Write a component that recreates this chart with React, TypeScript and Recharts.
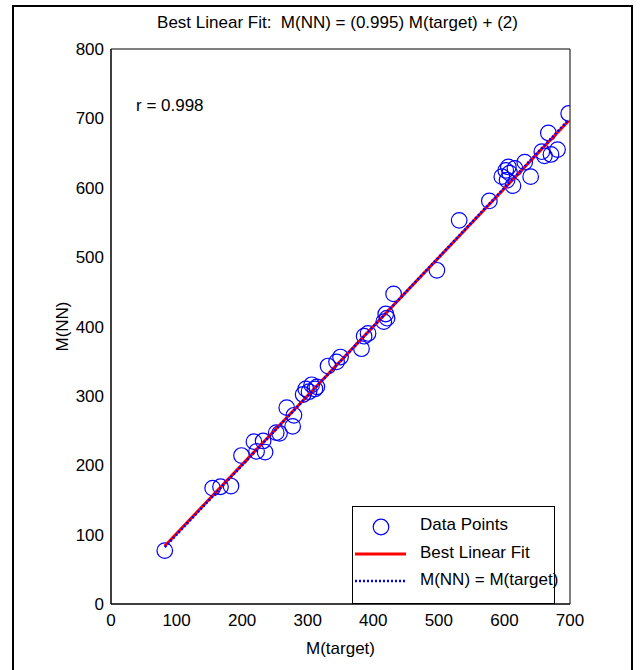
import React from 'react';
import { ScatterChart, Scatter, XAxis, YAxis, Legend } from 'recharts';

const targetValues = [82, 155, 167, 183, 199, 218, 222, 232, 235, 252, 257, 268, 277, 279, 293, 297, 302, 306, 311, 314, 331, 344, 350, 382, 386, 392, 416, 419, 421, 431, 497, 531, 577, 596, 602, 604, 606, 608, 613, 616, 631, 640, 657, 661, 667, 671, 681, 698];
const nnValues = [77, 167, 169, 170, 214, 234, 220, 235, 219, 247, 246, 283, 256, 272, 302, 310, 306, 316, 310, 313, 343, 349, 356, 368, 386, 390, 407, 418, 412, 447, 481, 553, 581, 616, 625, 611, 630, 621, 603, 628, 637, 616, 652, 646, 679, 648, 655, 707];

const fitX = [82, 698];
const fitY = [83.6, 696.5];
const identityX = [82, 698];
const identityY = [82, 698];

const xTicks = [0, 100, 200, 300, 400, 500, 600, 700];
const yTicks = [0, 100, 200, 300, 400, 500, 600, 700, 800];

const titleText = 'Best Linear Fit:  M(NN) = (0.995) M(target) + (2)';
const rText = 'r = 0.998';
const legendLabels = ['Data Points', 'Best Linear Fit', 'M(NN) = M(target)'];

const points = targetValues.map((x, i) => ({ x, y: nnValues[i] }));
const fitData = fitX.map((x, i) => ({ x, y: fitY[i] }));
const identityData = identityX.map((x, i) => ({ x, y: identityY[i] }));

const FONT = '"Liberation Sans", Arial, sans-serif';
const FS = 17;
const BLUE = '#0000ff';
const RED = '#ff0000';

const Ring = (props: any) => {
  const { cx, cy } = props;
  if (cx == null || cy == null) return <g />;
  return <circle cx={cx} cy={cy} r={7.8} fill="none" stroke={BLUE} strokeWidth={1.2} />;
};

const Empty = () => <g />;

const LegendBox = () => (
  <div
    style={{
      width: 203,
      height: 98,
      boxSizing: 'border-box',
      border: '1.5px solid #000',
      background: '#fff',
      fontFamily: FONT,
      fontSize: FS,
      color: '#000',
      position: 'relative',
    }}
  >
    <svg width={60} height={98} style={{ position: 'absolute', left: 0, top: 0 }}>
      <circle cx={28} cy={20} r={7.8} fill="none" stroke={BLUE} strokeWidth={1.2} />
      <line x1={2} x2={53} y1={47} y2={47} stroke={RED} strokeWidth={3} />
      <line x1={2} x2={52} y1={74} y2={74} stroke={BLUE} strokeWidth={2.5} strokeDasharray="2 2" />
    </svg>
    <div style={{ position: 'absolute', left: 67, top: 8, whiteSpace: 'nowrap' }}>{legendLabels[0]}</div>
    <div style={{ position: 'absolute', left: 67, top: 36, whiteSpace: 'nowrap' }}>{legendLabels[1]}</div>
    <div style={{ position: 'absolute', left: 67, top: 63, whiteSpace: 'nowrap' }}>{legendLabels[2]}</div>
  </div>
);

export default function App() {
  const tickStyle = { fill: '#000', fontSize: FS, fontFamily: FONT };
  return (
    <div
      style={{
        position: 'fixed',
        left: 0,
        top: 0,
        width: 640,
        height: 670,
        overflow: 'hidden',
        background: '#fff',
        fontFamily: FONT,
      }}
    >
      <div
        style={{
          position: 'absolute',
          left: 12,
          top: 5,
          width: 621,
          height: 720,
          border: '2px solid #000',
          boxSizing: 'border-box',
        }}
      />
      <div
        style={{
          position: 'absolute',
          left: 108,
          width: 459,
          top: 13,
          textAlign: 'center',
          fontSize: FS,
          whiteSpace: 'pre',
          color: '#000',
        }}
      >
        {titleText}
      </div>
      <div style={{ position: 'absolute', left: 136, top: 96, fontSize: FS, color: '#000' }}>{rText}</div>
      <div style={{ position: 'absolute', left: 0, top: 0 }}>
        <ScatterChart width={640} height={670} margin={{ top: 49, right: 70, bottom: 16, left: 61 }}>
          <XAxis
            xAxisId="b"
            type="number"
            dataKey="x"
            domain={[0, 700]}
            ticks={xTicks}
            orientation="bottom"
            height={50}
            tickLine={false}
            tickSize={0}
            tickMargin={10}
            stroke="#000"
            tick={tickStyle}
            allowDataOverflow
            label={{ value: 'M(target)', position: 'insideBottom', offset: 0, fill: '#000', fontSize: FS, fontFamily: FONT }}
          />
          <XAxis
            xAxisId="bm"
            type="number"
            dataKey="x"
            domain={[0, 700]}
            ticks={xTicks}
            orientation="bottom"
            mirror
            tickSize={5}
            tick={false}
            stroke="#000"
            allowDataOverflow
          />
          <XAxis
            xAxisId="tm"
            type="number"
            dataKey="x"
            domain={[0, 700]}
            ticks={xTicks}
            orientation="top"
            mirror
            tickSize={5}
            tick={false}
            stroke="#000"
            allowDataOverflow
          />
          <YAxis
            yAxisId="l"
            type="number"
            dataKey="y"
            domain={[0, 800]}
            ticks={yTicks}
            orientation="left"
            width={50}
            tickLine={false}
            tickSize={0}
            tickMargin={7}
            stroke="#000"
            tick={tickStyle}
            allowDataOverflow
            label={{ value: 'M(NN)', angle: -90, position: 'insideLeft', offset: 1, fill: '#000', fontSize: FS, fontFamily: FONT, style: { textAnchor: 'middle' } }}
          />
          <YAxis
            yAxisId="lm"
            type="number"
            dataKey="y"
            domain={[0, 800]}
            ticks={yTicks}
            orientation="left"
            mirror
            tickSize={5}
            tick={false}
            stroke="#000"
            allowDataOverflow
          />
          <YAxis
            yAxisId="rm"
            type="number"
            dataKey="y"
            domain={[0, 800]}
            ticks={yTicks}
            orientation="right"
            mirror
            tickSize={5}
            tick={false}
            stroke="#000"
            allowDataOverflow
          />
          <Scatter
            name={legendLabels[0]}
            xAxisId="b"
            yAxisId="l"
            data={points}
            shape={Ring}
            isAnimationActive={false}
          />
          <Scatter
            name={legendLabels[1]}
            xAxisId="b"
            yAxisId="l"
            data={fitData}
            line={{ stroke: RED, strokeWidth: 3 }}
            lineType="joint"
            shape={Empty}
            isAnimationActive={false}
          />
          <Scatter
            name={legendLabels[2]}
            xAxisId="b"
            yAxisId="l"
            data={identityData}
            line={{ stroke: BLUE, strokeWidth: 2.5, strokeDasharray: '2 2' }}
            lineType="joint"
            shape={Empty}
            isAnimationActive={false}
          />
          <Legend
            layout="horizontal"
            verticalAlign="middle"
            align="center"
            content={() => <LegendBox />}
            wrapperStyle={{ position: 'absolute', left: 352, top: 506, width: 203, height: 98, margin: 0, padding: 0 }}
          />
        </ScatterChart>
      </div>
    </div>
  );
}
